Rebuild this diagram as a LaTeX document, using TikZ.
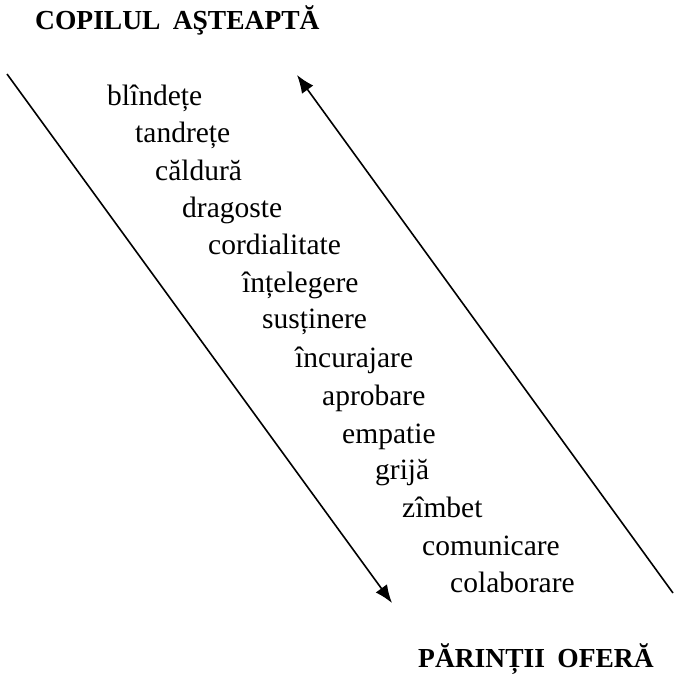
\documentclass[tikz,border=0pt]{standalone}
\usepackage{fontspec}
\setmainfont{Liberation Serif}
\usetikzlibrary{arrows.meta}
\begin{document}
\begin{tikzpicture}[x=1pt,y=-1pt,
  word/.style={anchor=base west,inner sep=0pt,font=\fontsize{29.5}{31}\selectfont},
  ttl/.style={anchor=base west,inner sep=0pt,font=\fontsize{27.5}{29}\selectfont\bfseries},
  conn/.style={line width=1.6pt,-{Latex[length=18pt,width=14pt]}}]
\useasboundingbox (0,0) rectangle (673,677);
\node[ttl] (t1) at (35,30) {COPILUL\hspace{0.45em}AŞTEAPTĂ};
\node[ttl] (t2) at (418,667) {PĂRINȚII\hspace{0.45em}OFERĂ};
\node[word] (w1) at (107,105) {blîndețe};
\node[word] (w2) at (135,142) {tandrețe};
\node[word] (w3) at (155,180) {căldură};
\node[word] (w4) at (182,217) {dragoste};
\node[word] (w5) at (208,254) {cordialitate};
\node[word] (w6) at (242,292) {înțelegere};
\node[word] (w7) at (262,328) {susținere};
\node[word] (w8) at (295,367) {încurajare};
\node[word] (w9) at (322,405) {aprobare};
\node[word] (w10) at (342,443) {empatie};
\node[word] (w11) at (375,479) {grijă};
\node[word] (w12) at (402,517) {zîmbet};
\node[word] (w13) at (422,555) {comunicare};
\node[word] (w14) at (450,592) {colaborare};
\coordinate (la) at (7,74);
\coordinate (lb) at (392,603);
\coordinate (ra) at (673,593);
\coordinate (rb) at (297,75);
\draw[conn] (la) -- (lb);
\draw[conn] (ra) -- (rb);
\end{tikzpicture}
\end{document}
